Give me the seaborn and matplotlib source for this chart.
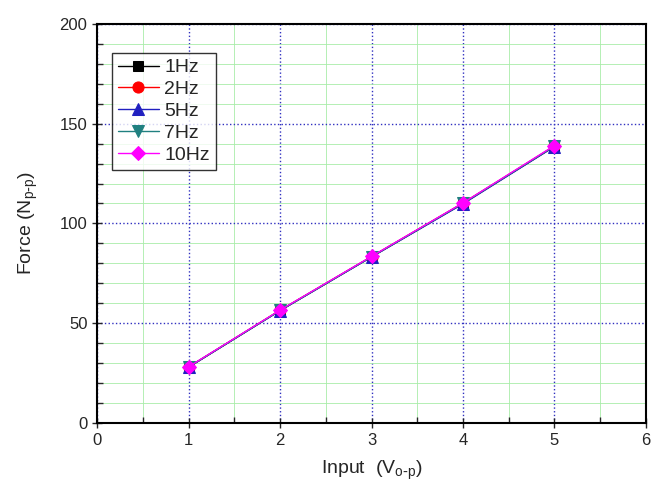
import numpy as np
import pandas as pd
import matplotlib
matplotlib.use("Agg")
import matplotlib.pyplot as plt
import seaborn as sns
from matplotlib.ticker import MultipleLocator

inputs = [1, 2, 3, 4, 5]
force_1hz = [28.0, 56.4, 83.3, 110.0, 138.6]
force_2hz = [28.1, 56.5, 83.4, 110.2, 138.8]
force_5hz = [28.0, 56.3, 83.2, 109.8, 138.5]
force_7hz = [28.1, 56.4, 83.3, 110.1, 138.7]
force_10hz = [28.2, 56.6, 83.5, 110.3, 139.0]
labels = ["1Hz", "2Hz", "5Hz", "7Hz", "10Hz"]
colors = ["black", "red", "#2020c0", "#208080", "magenta"]
markers = ["s", "o", "^", "v", "D"]
msizes = [7, 8, 8, 8, 7]

def main():
    sns.set_style("white")
    plt.rcParams['font.family'] = ['Liberation Sans', 'DejaVu Sans']
    fig, ax = plt.subplots(figsize=(6.7, 4.96), dpi=100)
    fig.subplots_adjust(left=0.145, right=0.964, top=0.952, bottom=0.147)
    series = [force_1hz, force_2hz, force_5hz, force_7hz, force_10hz]
    for vals, lab, c, m, ms in zip(series, labels, colors, markers, msizes):
        df = pd.DataFrame({"x": inputs, "y": vals})
        sns.lineplot(data=df, x="x", y="y", ax=ax, color=c, marker=m, markersize=ms,
                     markeredgecolor=c, linewidth=1, label=lab)
    ax.set_xlim(0, 6)
    ax.set_ylim(0, 200)
    ax.xaxis.set_major_locator(MultipleLocator(1))
    ax.xaxis.set_minor_locator(MultipleLocator(0.5))
    ax.yaxis.set_major_locator(MultipleLocator(50))
    ax.yaxis.set_minor_locator(MultipleLocator(10))
    ax.grid(which='minor', color='#a8eca8', linestyle='-', linewidth=0.6)
    ax.grid(which='major', color='#3030c0', linestyle=':', linewidth=1)
    ax.set_axisbelow(True)
    ax.tick_params(which='major', direction='inout', length=7, width=1, labelsize=12,
                   bottom=True, left=True)
    ax.tick_params(which='minor', direction='in', length=4, width=1, bottom=True, left=True)
    for s in ax.spines.values():
        s.set_color('black')
        s.set_linewidth(1.5)
    ax.set_xlabel("Input  (V$_{\\mathregular{o\\text{-}p}}$)", fontsize=14, labelpad=8)
    ax.set_ylabel("Force (N$_{\\mathregular{p\\text{-}p}}$)", fontsize=14, labelpad=14)
    leg = ax.legend(loc='upper left', bbox_to_anchor=(0.027, 0.927), fontsize=14,
                    frameon=True, fancybox=False, edgecolor='black', handlelength=2.1,
                    handletextpad=0.3, labelspacing=0.22, borderpad=0.3, borderaxespad=0)
    leg.get_frame().set_linewidth(1)
    fig.savefig("out.png", dpi=100)

if __name__ == '__main__':
    main()
